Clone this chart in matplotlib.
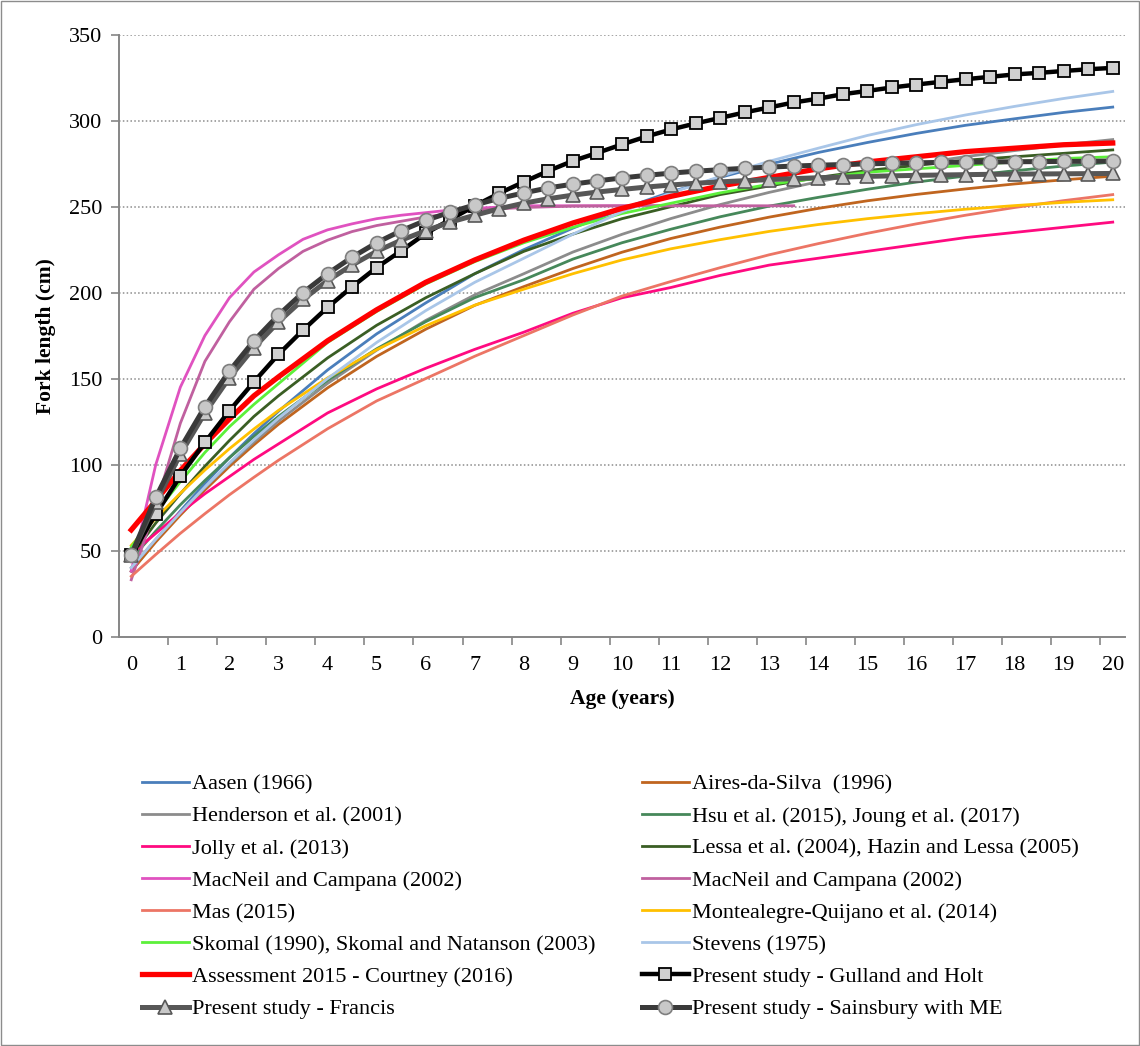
import numpy as np
import matplotlib
matplotlib.use("Agg")
import matplotlib.pyplot as plt
from matplotlib.patches import Rectangle

plt.rcParams['font.family'] = ['Liberation Serif', 'DejaVu Serif']

# ages (years) used by the published curves
ages = [0, 0.5, 1, 1.5, 2, 2.5, 3, 4, 5, 6, 7, 8, 9, 10,
        11, 12, 13, 14, 15, 16, 17, 18, 19, 20]
# ages used by the present study (every half year)
ages_half = np.arange(0, 20.5, 0.5)
ages_macneil1 = [0, 0.5, 1, 1.5, 2, 2.5, 3, 3.5, 4, 4.5, 5, 5.5, 6, 6.5, 7, 8, 9, 10, 11]
ages_macneil2 = [0, 0.5, 1, 1.5, 2, 2.5, 3, 3.5, 4, 4.5, 5, 5.5, 6, 6.5, 7, 8, 9, 10, 11, 12, 13, 13.5]

# fork length (cm)
aasen = [38, 56, 73, 89, 104, 118, 131, 155, 176, 194, 211, 225, 237.5, 248.7,
         258.6, 267, 274.7, 281.5, 287.3, 292.6, 297.3, 301.1, 304.8, 307.9]
aires = [38, 55, 70.6, 85.2, 98.9, 111.5, 123.4, 144.6, 162.9, 178.7, 192.6, 203.5, 214, 223.5,
         231.5, 238.1, 243.9, 249, 253.4, 257.1, 260.3, 263.2, 265.6, 267.7]
henderson = [40, 56.5, 72, 86.6, 100.4, 113.1, 125.3, 147.2, 166.5, 183.8, 198.7, 211, 223.6, 233.9,
             243.1, 251.2, 258.3, 264.5, 269.9, 274.8, 279.1, 282.6, 286, 289]
hsu = [45, 61.3, 76.6, 90.7, 104, 116.4, 128, 149, 167.3, 183.1, 197.1, 207.5, 219.5, 229,
       236.9, 244.1, 250.3, 255.4, 260.1, 264.3, 267.8, 270.9, 273.6, 275.9]
jolly = [48, 60, 72, 83, 93, 103, 112, 130, 144, 156, 167, 177, 188, 197,
         203, 210, 216, 220, 224, 228, 232, 235, 238, 241]
lessa = [47, 66, 83, 99, 114, 128, 140, 162, 181, 197, 211, 224, 234, 243,
         250, 257, 262, 267, 271, 274, 277, 279, 281, 283]
macneil1 = [38, 100, 145, 175, 197, 212, 222, 231, 236.5, 240, 243, 245, 246.5, 248, 249,
            250.5, 250.5, 250.5, 250.5]
macneil2 = [33, 76, 124, 160, 183, 202, 214, 224, 230.5, 235.5, 239, 241.5, 244, 246, 248,
            249.5, 250.3, 250.5, 250.5, 250.5, 250.5, 250.5]
mas = [35, 47.7, 60, 71.4, 82.4, 92.6, 102.5, 120.8, 137, 150, 163, 175, 187, 198,
       206.5, 214.5, 222, 228.5, 234.5, 240, 245, 249.5, 253.5, 257]
montealegre = [53, 68.8, 83.3, 96.8, 109.2, 120.7, 131.5, 150.4, 166.8, 180.7, 192.7, 202, 211, 219,
               225.5, 230.8, 235.6, 239.6, 243, 245.9, 248.5, 250.6, 252.5, 254]
skomal = [52, 72, 90, 107, 122, 135, 147, 171, 189, 205, 218, 229, 238, 246,
          252, 258, 263, 266.5, 270, 272, 274, 276, 278, 279]
stevens = [40, 56.6, 72, 86.9, 101, 114.4, 127, 150, 171, 189.5, 206, 220, 234, 247,
           258, 267.6, 276.4, 284, 291.4, 297.7, 303.3, 308.3, 312.9, 317]
assessment = [62, 79, 96.5, 112, 126.5, 140, 151, 172, 190, 206, 219, 230.5, 240.5, 249,
              256, 262, 267, 272, 276, 279, 282, 284, 286, 287]
gulland_holt = [47.4, 71.2, 93.3, 112.9, 131.3, 148.1, 164.1, 178.2, 191.4, 203.4, 214.6,
                224.3, 234.4, 242.5, 250.5, 257.8, 264.4, 270.8, 276.6, 281.3, 286.2,
                290.8, 294.9, 298.4, 301.6, 304.8, 307.7, 310.6, 312.8, 315.4, 317.3,
                319.3, 321.0, 322.6, 324.1, 325.5, 326.9, 327.8, 328.9, 329.9, 330.7]
francis = [47.4, 78, 106, 130, 150.5, 168, 183, 196, 207, 216, 224, 230.5, 236, 241, 245,
           248.8, 252, 254.6, 256.7, 258.5, 260.0, 261.4, 262.6, 263.6, 264.4, 265.1,
           265.7, 266.3, 266.8, 267.2, 267.6, 267.9, 268.2, 268.4, 268.6, 268.8, 268.9,
           269.0, 269.1, 269.2, 269.3]
sainsbury = [47.4, 80.9, 109.4, 133.6, 154.4, 172.0, 186.9, 200.0, 211.0, 220.6, 229.0,
             236.0, 242.0, 246.8, 251.0, 254.8, 258.0, 260.9, 263.1, 265.0, 266.7, 268.2,
             269.5, 270.6, 271.5, 272.3, 273.0, 273.6, 274.1, 274.5, 274.9, 275.2, 275.5,
             275.7, 275.9, 276.0, 276.1, 276.2, 276.3, 276.4, 276.5]

thin = [
    ("Aasen (1966)", ages, aasen, "#4A7EBB"),
    ("Aires-da-Silva  (1996)", ages, aires, "#C0651F"),
    ("Henderson et al. (2001)", ages, henderson, "#8C8C8C"),
    ("Hsu et al. (2015), Joung et al. (2017)", ages, hsu, "#46885A"),
    ("Jolly et al. (2013)", ages, jolly, "#FF0A80"),
    ("Lessa et al. (2004), Hazin and Lessa (2005)", ages, lessa, "#3A5E24"),
    ("MacNeil and Campana (2002)", ages_macneil1, macneil1, "#E052C0"),
    ("MacNeil and Campana (2002)", ages_macneil2, macneil2, "#C0609F"),
    ("Mas (2015)", ages, mas, "#EC7565"),
    ("Montealegre-Quijano et al. (2014)", ages, montealegre, "#FFC000"),
    ("Skomal (1990), Skomal and Natanson (2003)", ages, skomal, "#5CF03A"),
    ("Stevens (1975)", ages, stevens, "#A9C6E8"),
]

fig = plt.figure(figsize=(11.4, 10.46), dpi=100)
ax = fig.add_axes([119 / 1140, 1 - 636.5 / 1046, (1125 - 119) / 1140, (636.5 - 34.7) / 1046])

handles = []
for name, x, y, c in thin:
    h, = ax.plot(x, y, color=c, lw=2.0, label=name, solid_joinstyle='round')
    handles.append(h)

h, = ax.plot(ages, assessment, color="#FF0000", lw=3.8, label="Assessment 2015 - Courtney (2016)",
             solid_joinstyle='round')
handles.append(h)
h, = ax.plot(ages_half, gulland_holt, color="black", lw=3.2, marker='s', ms=9,
             mfc="#D0D0D0", mec="black", mew=1.3, label="Present study - Gulland and Holt")
handles.append(h)
h, = ax.plot(ages_half, francis, color="#575757", lw=3.6, marker='^', ms=9.5,
             mfc="#C8C8C8", mec="#575757", mew=1.2, label="Present study - Francis")
handles.append(h)
h, = ax.plot(ages_half, sainsbury, color="#3A3A3A", lw=3.6, marker='o', ms=10,
             mfc="#C8C8C8", mec="#7F7F7F", mew=1.2, label="Present study - Sainsbury with ME")
handles.append(h)

ax.set_xlim(-0.25, 20.25)
ax.set_ylim(0, 350)
ax.set_yticks(range(0, 351, 50))
ax.set_xticks(range(0, 21))
ax.set_xticks(np.arange(0.75, 20, 1), minor=True)
ax.tick_params(axis='x', which='major', length=0, labelsize=16, pad=14)
ax.tick_params(axis='x', which='minor', length=6, width=1.2, color="#868686", direction='out')
ax.tick_params(axis='y', length=6, width=1.2, color="#868686", labelsize=16, pad=6)
for s in ['top', 'right']:
    ax.spines[s].set_visible(False)
for s in ['left', 'bottom']:
    ax.spines[s].set_color("#868686")
    ax.spines[s].set_linewidth(1.4)
for v in range(50, 351, 50):
    ax.axhline(v, color="#8C8C8C", lw=1.1, ls=(0, (1, 1.5)), zorder=0)

ax.set_xlabel("Age (years)", fontsize=15.5, fontweight='bold', labelpad=10)
ax.set_ylabel("Fork length (cm)", fontsize=15.5, fontweight='bold', labelpad=9)

left_h = handles[0::2]
right_h = handles[1::2]
kw = dict(loc='upper left', frameon=False, fontsize=16, handlelength=2.1,
          handletextpad=0.15, labelspacing=0.52, borderpad=0, borderaxespad=0)
leg1 = fig.legend(left_h, [h.get_label() for h in left_h],
                  bbox_to_anchor=(142 / 1140, 1 - 774 / 1046), **kw)
leg2 = fig.legend(right_h, [h.get_label() for h in right_h],
                  bbox_to_anchor=(642 / 1140, 1 - 774 / 1046), **kw)

fig.patches.append(Rectangle((0.0005, 0.0005), 0.999, 0.999, transform=fig.transFigure,
                             fill=False, edgecolor="#8C8C8C", lw=1))

fig.savefig("out.png", dpi=100)
